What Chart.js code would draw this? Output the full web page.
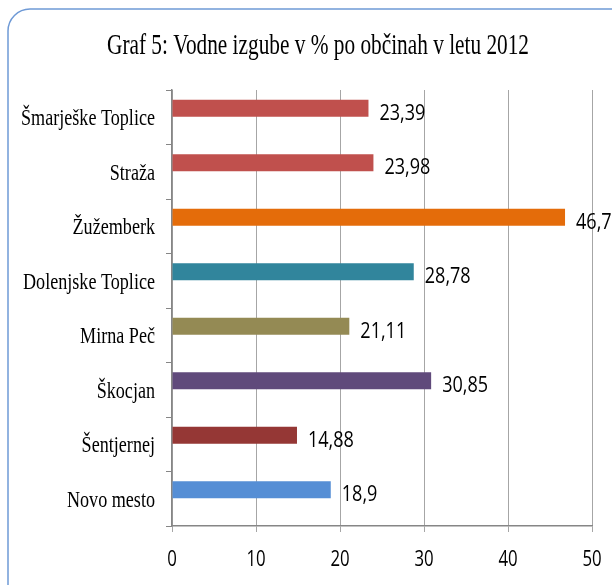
<!DOCTYPE html>
<html>
<head>
<meta charset="utf-8">
<script src="https://cdn.jsdelivr.net/npm/chart.js@4"></script>
<style>
  html, body { margin: 0; padding: 0; background: #fff; }
  #wrap { width: 612px; height: 585px; }
</style>
</head>
<body>
<div id="wrap"><canvas id="chart1" width="612" height="585"></canvas></div>
<script>
const titleText = 'Graf 5: Vodne izgube v % po občinah v letu 2012';
const municipalities = ['Šmarješke Toplice', 'Straža', 'Žužemberk', 'Dolenjske Toplice', 'Mirna Peč', 'Škocjan', 'Šentjernej', 'Novo mesto'];
const losses = [23.39, 23.98, 46.79, 28.78, 21.11, 30.85, 14.88, 18.9];
const lossLabels = ['23,39', '23,98', '46,79', '28,78', '21,11', '30,85', '14,88', '18,9'];
const barColors = ['#c0504d', '#c0504d', '#e46c0a', '#31859c', '#948a54', '#604a7b', '#953735', '#558ed5'];
const xTicks = [0, 10, 20, 30, 40, 50];

// draw text squeezed horizontally (the original uses condensed fonts)
function squeezed(c, text, x, y, k, align) {
    c.save();
    c.translate(x, y);
    c.scale(k, 1);
    c.textAlign = align;
    c.fillText(text, 0, 0);
    c.restore();
}

// frame, title, axis labels and value labels
const decor = {
    id: 'decor',
    beforeDraw(chart) {
        const c = chart.ctx;
        c.save();
        c.fillStyle = '#fff';
        c.fillRect(0, 0, chart.width, chart.height);
        c.strokeStyle = '#6f9ad6';
        c.lineWidth = 1.5;
        c.beginPath();
        c.roundRect(8, 9, 630, 600, 22);
        c.stroke();
        c.restore();
    },
    afterDraw(chart) {
        const c = chart.ctx;
        const yScale = chart.scales.y;
        const xScale = chart.scales.x;
        c.save();
        c.fillStyle = '#000';
        // title
        c.font = '29px "Liberation Serif"';
        squeezed(c, titleText, 318, 54, 422 / c.measureText(titleText).width, 'center');
        // category labels
        c.font = '24px "Liberation Serif"';
        const k = 134 / c.measureText(municipalities[0]).width;
        municipalities.forEach((name, i) => {
            squeezed(c, name, 155, yScale.getPixelForTick(i) + 8, k, 'right');
        });
        // x tick labels
        c.font = '21px "Open Sans"';
        xTicks.forEach(v => {
            squeezed(c, String(v), xScale.getPixelForValue(v), 566, 0.8, 'center');
        });
        // value labels
        c.font = '22px "Open Sans"';
        chart.getDatasetMeta(0).data.forEach((bar, i) => {
            squeezed(c, lossLabels[i], bar.x + 11, bar.y + 11.5, 0.82, 'left');
        });
        c.restore();
    }
};

var ctx1 = document.getElementById('chart1').getContext('2d');
var chart1 = new Chart(ctx1, {
    type: 'bar',
    data: {
        labels: municipalities,
        datasets: [{
            data: losses,
            backgroundColor: barColors,
            categoryPercentage: 0.66,
            barPercentage: 0.94
        }, {
            // empty second series, keeps the bars in the upper half like the original
            data: municipalities.map(() => null),
            categoryPercentage: 0.66,
            barPercentage: 0.94
        }]
    },
    options: {
        indexAxis: 'y',
        responsive: false,
        animation: false,
        layout: {
            padding: { top: 90, right: 20, left: 0, bottom: 0 }
        },
        scales: {
            x: {
                min: 0,
                max: 50,
                afterBuildTicks: (scale) => {
                    scale.ticks = xTicks.map(v => ({ value: v }));
                },
                afterFit: (scale) => { scale.height = 59; },
                grid: {
                    color: '#a6a6a6',
                    tickLength: 6,
                    lineWidth: 1
                },
                border: { color: '#868686', width: 1.5 },
                ticks: { display: false }
            },
            y: {
                afterFit: (scale) => { scale.width = 172; },
                grid: {
                    drawOnChartArea: false,
                    color: '#868686',
                    tickLength: 6
                },
                border: { color: '#868686', width: 1.5 },
                ticks: { display: false }
            }
        },
        plugins: {
            legend: { display: false },
            tooltip: { enabled: false }
        }
    },
    plugins: [decor]
});
</script>
</body>
</html>
